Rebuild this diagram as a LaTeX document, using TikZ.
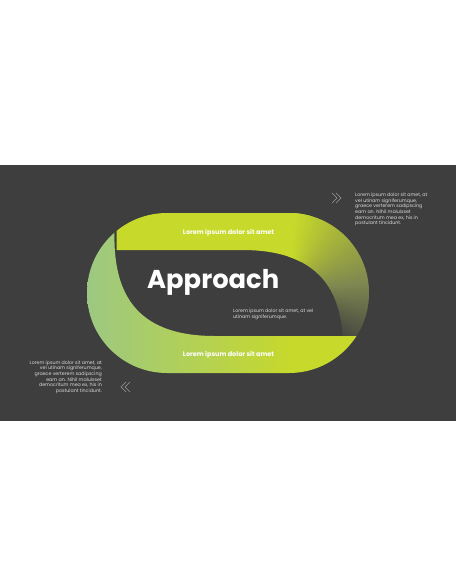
\documentclass[tikz,border=0pt]{standalone}
\usepackage{fontspec}
\setmainfont{Poppins}
\definecolor{bgA}{HTML}{3E3E3E}
\definecolor{limeA}{HTML}{C7D92A}
\definecolor{oliveA}{HTML}{7E8750}
\definecolor{leafA}{HTML}{9DC882}
\definecolor{txtA}{HTML}{DADADA}
\definecolor{chevA}{HTML}{9A9A9A}
\tikzset{
  body/.style={text=txtA, font=\fontsize{4.75}{5.7}\selectfont, inner sep=0pt},
  bandlabel/.style={text=white, font=\bfseries\fontsize{6.5}{7}\selectfont, inner sep=0pt},
  titletext/.style={text=white, font=\bfseries\fontsize{25.8}{28}\selectfont, inner sep=0pt},
  chev/.style={draw=chevA, line width=0.6pt}
}
\newcommand\stadiumP{(167,213) -- (289,213) arc[start angle=-90,end angle=90,radius=80] -- (167,373) arc[start angle=90,end angle=270,radius=80] -- cycle}
\begin{document}
\begin{tikzpicture}[x=1pt,y=-1pt]
\useasboundingbox (0,0) rectangle (456,586);
\fill[white] (0,0) rectangle (456,586);
\fill[bgA] (0,165) rectangle (456,421);
% band A: top + right, fading
\begin{scope}
  \clip \stadiumP;
  \clip (116.5,100) -- (116.5,250) -- (242,250) .. controls (315,250) and (345,286) .. (343,354) -- (343,420) -- (456,420) -- (456,100) -- cycle;
  \fill[limeA] (100,200) rectangle (310,262);
  \coordinate (rc) at (289,293);
  \foreach \a in {-90,-88,...,60}{
    \pgfmathsetmacro\ff{min(1,max(0,(\a+85)/130))}
    \pgfmathsetmacro\pa{100-\ff/0.6*100}
    \pgfmathsetmacro\pb{max(0,100-(\ff-0.6)/0.4*100)}
    \ifdim\ff pt<0.6pt \colorlet{cc}{limeA!\pa!oliveA}\else\colorlet{cc}{oliveA!\pb!bgA}\fi
    \fill[cc] (rc) -- ([shift={(\a-1.3:170)}]rc) -- ([shift={(\a+1.3:170)}]rc) -- cycle;
  }
\end{scope}
% band B: left + bottom
\begin{scope}
  \clip \stadiumP;
  \clip (114.5,150) -- (114.5,232.6) .. controls (113,300) and (142,336) .. (215,336) -- (420,336) -- (420,420) -- (40,420) -- (40,150) -- cycle;
  \shade[left color=leafA, right color=limeA] (87,200) rectangle (295,380);
  \fill[limeA] (294,200) rectangle (380,380);
\end{scope}
\node[bandlabel] (lt) at (228.5,233) {Lorem ipsum dolor sit amet};
\node[bandlabel] (lb) at (228.5,354.5) {Lorem ipsum dolor sit amet};
\node[titletext, anchor=base west] (ap) at (147,288) {Approach};
\node[body, anchor=north west, align=left] (mid) at (233,308.6) {Lorem ipsum dolor sit amet, at vel\\utinam signiferumque.};
\node[body, anchor=north west, align=left] (rt) at (355,192.6) {Lorem ipsum dolor sit amet, at\\vel utinam signiferumque,\\graece verterem sadipscing\\eam an. Nihil maluisset\\democritum mea ex, his in\\postulant tincidunt.};
\node[body, anchor=north east, align=right] (lf) at (102,360.2) {Lorem ipsum dolor sit amet, at\\vel utinam signiferumque,\\graece verterem sadipscing\\eam an. Nihil maluisset\\democritum mea ex, his in\\postulant tincidunt.};
\draw[chev] (332,193) -- (337,198) -- (332,203);
\draw[chev] (336,193) -- (341,198) -- (336,203);
\draw[chev] (126,382) -- (121,387) -- (126,392);
\draw[chev] (130,382) -- (125,387) -- (130,392);
\end{tikzpicture}
\end{document}
